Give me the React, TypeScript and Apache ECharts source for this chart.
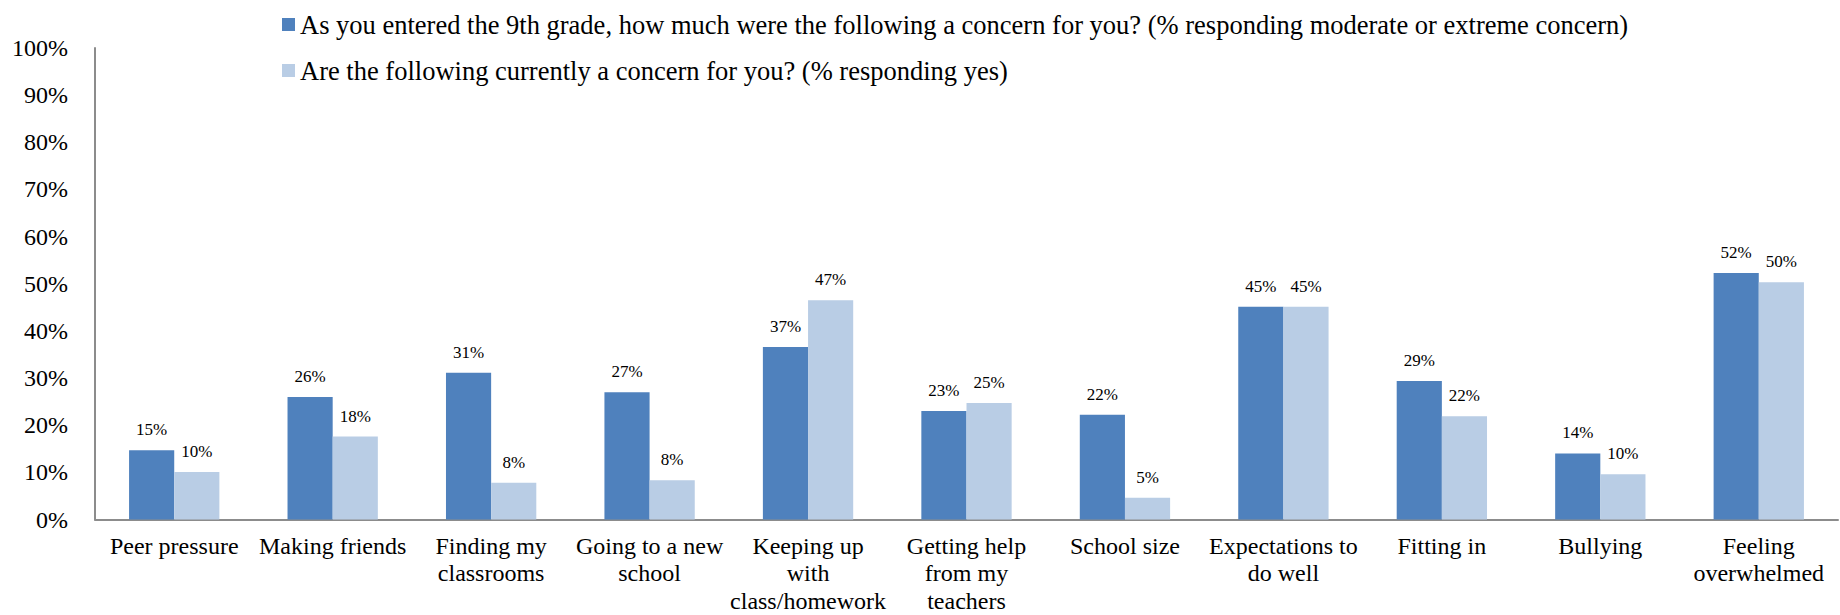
import React, { useEffect, useRef } from "react";
import * as echarts from "echarts";

const categories = [
  "Peer pressure",
  "Making friends",
  "Finding my\nclassrooms",
  "Going to a new\nschool",
  "Keeping up\nwith\nclass/homework",
  "Getting help\nfrom my\nteachers",
  "School size",
  "Expectations to\ndo well",
  "Fitting in",
  "Bullying",
  "Feeling\noverwhelmed",
];

const seriesNames = [
  "As you entered the 9th grade, how much were the following a concern for you? (% responding moderate or extreme concern)",
  "Are the following currently a concern for you? (% responding yes)",
];

const entered9th = [14.7, 26.0, 31.1, 27.0, 36.6, 23.0, 22.2, 45.1, 29.4, 14.0, 52.3];
const currently = [10.1, 17.6, 7.8, 8.3, 46.5, 24.7, 4.6, 45.1, 21.9, 9.6, 50.3];

const FONT = '"Times New Roman", "Liberation Serif", serif';

export default function App() {
  const ref = useRef<HTMLDivElement>(null);
  useEffect(() => {
    if (!ref.current) return;
    const chart = echarts.init(ref.current, null, { renderer: "svg" });
    const label = {
      show: true,
      position: "top",
      distance: 12,
      fontFamily: FONT,
      fontSize: 17,
      color: "#000",
      formatter: (p: any) => Math.round(p.value) + "%",
    };
    chart.setOption({
      animation: false,
      textStyle: { fontFamily: FONT },
      legend: {
        orient: "vertical",
        left: 277,
        top: 6,
        itemWidth: 13,
        itemHeight: 13,
        itemGap: 19,
        icon: "rect",
        textStyle: { fontFamily: FONT, fontSize: 26.5, lineHeight: 27, color: "#000" },
        data: seriesNames,
      },
      grid: {
        left: 95,
        right: 2,
        top: 48,
        bottom: 95.5,
        containLabel: false,
        outerBoundsMode: "none",
      },
      xAxis: {
        type: "category",
        data: categories,
        axisLine: { show: true, lineStyle: { color: "#8c8c8c", width: 2 } },
        axisTick: { show: false },
        axisLabel: {
          interval: 0,
          margin: 13,
          fontFamily: FONT,
          fontSize: 24,
          lineHeight: 27.2,
          color: "#000",
        },
      },
      yAxis: {
        type: "value",
        min: 0,
        max: 100,
        interval: 10,
        axisLine: { show: true, lineStyle: { color: "#8c8c8c", width: 2 } },
        axisTick: { show: false },
        splitLine: { show: false },
        axisLabel: {
          margin: 27,
          fontFamily: FONT,
          fontSize: 24,
          color: "#000",
          formatter: "{value}%",
        },
      },
      series: [
        {
          name: seriesNames[0],
          type: "bar",
          data: entered9th,
          barCategoryGap: "43%",
          barGap: "0%",
          itemStyle: { color: "#4F81BD" },
          label,
        },
        {
          name: seriesNames[1],
          type: "bar",
          data: currently,
          barCategoryGap: "43%",
          barGap: "0%",
          itemStyle: { color: "#B9CDE5" },
          label,
        },
      ],
    });
    return () => chart.dispose();
  }, []);
  return (
    <div
      ref={ref}
      style={{ position: "absolute", left: 0, top: 0, width: 1840, height: 615 }}
    />
  );
}
